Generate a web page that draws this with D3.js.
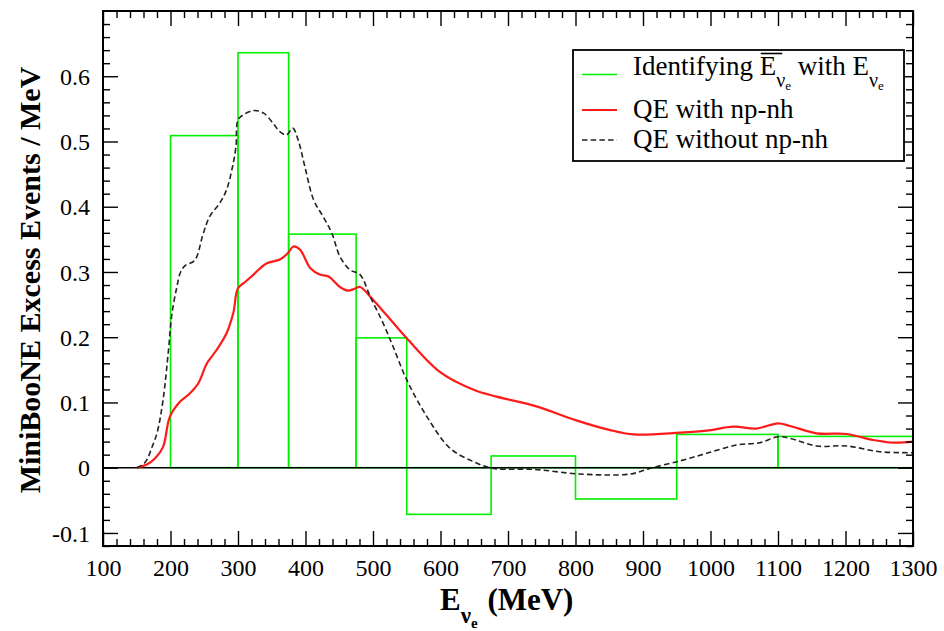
<!DOCTYPE html>
<html>
<head>
<meta charset="utf-8">
<script src="https://cdn.jsdelivr.net/npm/d3@7"></script>
<style>
  body { margin: 0; background: #fff; }
  svg { display: block; }
  text { font-family: "Liberation Serif", "Times New Roman", serif; fill: #000; }
</style>
</head>
<body>
<svg id="chart" width="944" height="631"></svg>
<script>
// MiniBooNE excess: reconstructed-energy histogram vs. QE predictions

// Histogram bins (MeV edges) and excess per MeV
const binEdges  = [200, 300, 375, 475, 550, 675, 800, 950, 1100, 1300];
const binValues = [0.509, 0.636, 0.358, 0.199, -0.0715, 0.018, -0.048, 0.051, 0.048];

// QE with np-nh
const npnhE = [150, 165, 177, 189, 199, 214, 229, 241, 254, 268, 283, 293, 300, 311, 323, 342, 362, 374, 382, 392, 407, 421, 434, 451, 463, 472, 481, 496, 520, 552, 600, 650, 683, 742, 800, 850, 886, 955, 994, 1034, 1068, 1100, 1118, 1157, 1202, 1241, 1271, 1300];
const npnhV = [0, 0.005, 0.014, 0.032, 0.078, 0.101, 0.114, 0.129, 0.160, 0.180, 0.206, 0.237, 0.275, 0.285, 0.296, 0.313, 0.319, 0.329, 0.339, 0.334, 0.306, 0.296, 0.293, 0.277, 0.2715, 0.274, 0.277, 0.262, 0.234, 0.196, 0.146, 0.119, 0.109, 0.094, 0.073, 0.058, 0.051, 0.0537, 0.0567, 0.0629, 0.060, 0.068, 0.064, 0.0527, 0.0517, 0.0425, 0.0384, 0.040];

// QE without np-nh
const qeE = [150, 158, 165, 172, 180, 189, 197, 202, 209, 215, 222, 236, 248, 258, 273, 283, 291, 297, 300, 308, 323, 338, 352, 362, 372, 381, 389, 399, 412, 426, 439, 451, 466, 481, 496, 515, 530, 550, 580, 614, 649, 678, 738, 807, 881, 910, 955, 994, 1039, 1073, 1100, 1118, 1157, 1202, 1251, 1300];
const qeV = [0, 0.004, 0.012, 0.03, 0.053, 0.104, 0.18, 0.235, 0.275, 0.30, 0.31, 0.318, 0.357, 0.385, 0.4055, 0.426, 0.457, 0.492, 0.533, 0.541, 0.5475, 0.5435, 0.528, 0.515, 0.510, 0.5205, 0.5026, 0.4617, 0.4106, 0.385, 0.3595, 0.3236, 0.3032, 0.2956, 0.262, 0.2215, 0.185, 0.1345, 0.078, 0.03, 0.0092, -0.001, -0.0025, -0.0097, -0.0097, -0.001, 0.0105, 0.022, 0.0348, 0.0383, 0.0475, 0.045, 0.0333, 0.0333, 0.0245, 0.023];

// Axis ticks
const xMajor = d3.range(100, 1301, 100);
const xMinor = d3.range(100, 1301, 20).filter(v => v % 100 !== 0);
const yMajor = d3.range(-1, 7).map(i => i / 10);
const yMinor = d3.range(-6, 36).map(i => i / 50).filter(v => Math.abs(v * 10 - Math.round(v * 10)) > 1e-6);

const svg = d3.select("#chart");
const L = 103, R = 913, T = 11, B = 546;

const x = d3.scaleLinear().domain([100, 1300]).range([L, R]);
const y = d3.scaleLinear().domain([-0.12, 0.7]).range([B, T]);

svg.append("defs").append("clipPath").attr("id", "plotClip")
  .append("rect").attr("x", L).attr("y", T).attr("width", R - L).attr("height", B - T);

const plot = svg.append("g").attr("clip-path", "url(#plotClip)");

// Histogram drawn as outlined bars from zero
const bins = binValues.map((v, i) => ({ x0: binEdges[i], x1: binEdges[i + 1], v }));
plot.selectAll("rect.bin").data(bins).join("rect")
  .attr("class", "bin")
  .attr("x", d => x(d.x0))
  .attr("width", d => x(d.x1) - x(d.x0))
  .attr("y", d => y(Math.max(0, d.v)))
  .attr("height", d => Math.abs(y(d.v) - y(0)))
  .attr("fill", "none")
  .attr("stroke", "#00f000")
  .attr("stroke-width", 1.6);

// Zero line
plot.append("line")
  .attr("x1", L).attr("x2", R).attr("y1", y(0)).attr("y2", y(0))
  .attr("stroke", "#000").attr("stroke-width", 1.4);

const line = d3.line()
  .x(d => x(d[0])).y(d => y(d[1]))
  .curve(d3.curveCatmullRom.alpha(0.5));

plot.append("path")
  .datum(npnhE.map((e, i) => [e, npnhV[i]]))
  .attr("d", line)
  .attr("fill", "none").attr("stroke", "#ff1a1a").attr("stroke-width", 2.2);

plot.append("path")
  .datum(qeE.map((e, i) => [e, qeV[i]]))
  .attr("d", line)
  .attr("fill", "none").attr("stroke", "#222").attr("stroke-width", 1.6)
  .attr("stroke-dasharray", "5.5,3.2");

// Axes with inward ticks on all four sides
const tickStyle = g => {
  g.select(".domain").remove();
  g.selectAll(".tick line").attr("stroke", "#000").attr("stroke-width", 1.4);
};

const yFmt = d => d === 0 ? "0" : (d < 0 ? "-" : "") + Math.abs(d).toFixed(1);

svg.append("g").attr("transform", `translate(0,${B})`)
  .call(d3.axisBottom(x).tickValues(xMajor).tickSize(-15).tickFormat(d3.format("d")))
  .call(tickStyle)
  .call(g => g.selectAll("text").attr("y", 30).attr("dy", null)
    .attr("font-size", 24).attr("font-family", null));
svg.append("g").attr("transform", `translate(0,${B})`)
  .call(d3.axisBottom(x).tickValues(xMinor).tickSize(-7).tickFormat(""))
  .call(tickStyle);

svg.append("g").attr("transform", `translate(0,${T})`)
  .call(d3.axisTop(x).tickValues(xMajor).tickSize(-15).tickFormat(""))
  .call(tickStyle);
svg.append("g").attr("transform", `translate(0,${T})`)
  .call(d3.axisTop(x).tickValues(xMinor).tickSize(-7).tickFormat(""))
  .call(tickStyle);

svg.append("g").attr("transform", `translate(${L},0)`)
  .call(d3.axisLeft(y).tickValues(yMajor).tickSize(-15).tickFormat(yFmt))
  .call(tickStyle)
  .call(g => g.selectAll("text").attr("x", -13).attr("dy", "0.34em")
    .attr("font-size", 24).attr("font-family", null));
svg.append("g").attr("transform", `translate(${L},0)`)
  .call(d3.axisLeft(y).tickValues(yMinor).tickSize(-7).tickFormat(""))
  .call(tickStyle);

svg.append("g").attr("transform", `translate(${R},0)`)
  .call(d3.axisRight(y).tickValues(yMajor).tickSize(-15).tickFormat(""))
  .call(tickStyle);
svg.append("g").attr("transform", `translate(${R},0)`)
  .call(d3.axisRight(y).tickValues(yMinor).tickSize(-7).tickFormat(""))
  .call(tickStyle);

// Frame
svg.append("rect")
  .attr("x", L).attr("y", T).attr("width", R - L).attr("height", B - T)
  .attr("fill", "none").attr("stroke", "#000").attr("stroke-width", 2);

// Axis titles
const xt = svg.append("text").attr("x", 440).attr("y", 610)
  .attr("font-size", 31).attr("font-weight", "bold");
xt.append("tspan").text("E");
xt.append("tspan").attr("font-size", 23).attr("dy", 13).text("ν");
xt.append("tspan").attr("font-size", 15).attr("dy", 5).attr("dx", 0).text("e");
xt.append("tspan").attr("dy", -18).attr("dx", 2).text(" (MeV)");

svg.append("text")
  .attr("transform", "translate(40,280) rotate(-90)")
  .attr("text-anchor", "middle")
  .attr("font-size", 30).attr("font-weight", "bold")
  .text("MiniBooNE Excess Events / MeV");

// Legend
const lg = svg.append("g");
lg.append("rect").attr("x", 573).attr("y", 50).attr("width", 331).attr("height", 111)
  .attr("fill", "#fff").attr("stroke", "#000").attr("stroke-width", 1.8);

const legendRows = [
  { y: 74.5, color: "#00f000", dash: null, width: 1.6 },
  { y: 110, color: "#ff1a1a", dash: null, width: 2.2 },
  { y: 140, color: "#222", dash: "5.5,3.2", width: 1.6 }
];
legendRows.forEach(r => {
  lg.append("line").attr("x1", 582).attr("x2", 617).attr("y1", r.y).attr("y2", r.y)
    .attr("stroke", r.color).attr("stroke-width", r.width)
    .attr("stroke-dasharray", r.dash);
});

const t1 = lg.append("text").attr("x", 633).attr("y", 75).attr("font-size", 27);
t1.append("tspan").text("Identifying ");
const eBar = t1.append("tspan").text("E");
t1.append("tspan").attr("font-size", 20).attr("dy", 12).text("ν");
t1.append("tspan").attr("font-size", 13).attr("dy", 3).text("e");
t1.append("tspan").attr("dy", -15).text(" with E");
t1.append("tspan").attr("font-size", 20).attr("dy", 12).text("ν");
t1.append("tspan").attr("font-size", 13).attr("dy", 3).text("e");

// Overbar on the first E
const bb = eBar.node().getBBox();
lg.append("line")
  .attr("x1", bb.x + 1).attr("x2", bb.x + bb.width + 6)
  .attr("y1", 53.5).attr("y2", 53.5)
  .attr("stroke", "#000").attr("stroke-width", 1.6);

lg.append("text").attr("x", 633).attr("y", 118).attr("font-size", 27).text("QE with np-nh");
lg.append("text").attr("x", 633).attr("y", 148).attr("font-size", 27).text("QE without np-nh");
</script>
</body>
</html>
